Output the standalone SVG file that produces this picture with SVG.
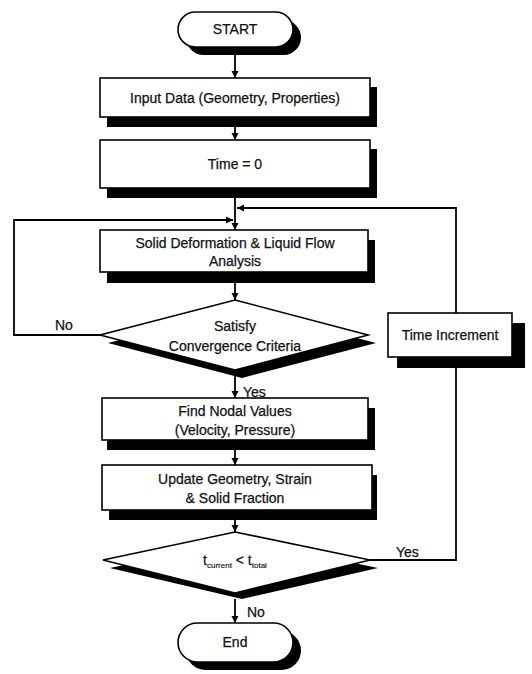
<svg xmlns="http://www.w3.org/2000/svg" width="532" height="674" viewBox="0 0 532 674">
<style>
  .box { fill: #fff; stroke: #000; stroke-width: 1.6; }
  .sh { fill: #000; }
  .ln { fill: none; stroke: #000; stroke-width: 1.8; }
  text { font-family: "Liberation Sans", Arial, sans-serif; font-size: 14px; fill: #111; stroke: #111; stroke-width: 0.25; text-anchor: middle; }
  .lbl { text-anchor: start; }
</style>
<defs>
  <marker id="ah" viewBox="0 0 10 10" refX="10" refY="5" markerWidth="7" markerHeight="9" markerUnits="userSpaceOnUse" orient="auto">
    <path d="M0,0 L10,5 L0,10 z" fill="#000"/>
  </marker>
</defs>
<rect width="532" height="674" fill="#fff"/>

<g id="connectors">
  <line class="ln" x1="235" y1="47" x2="235" y2="78" marker-end="url(#ah)"/>
  <line class="ln" x1="235" y1="127" x2="235" y2="140" marker-end="url(#ah)"/>
  <line class="ln" x1="235" y1="198" x2="235" y2="230" marker-end="url(#ah)"/>
  <polyline class="ln" points="456,313 456,208 237,208" marker-end="url(#ah)"/>
  <polyline class="ln" points="100,335 14,335 14,220 233,220" marker-end="url(#ah)"/>
  <line class="ln" x1="235" y1="283" x2="235" y2="300" marker-end="url(#ah)"/>
  <line class="ln" x1="235" y1="376" x2="235" y2="398" marker-end="url(#ah)"/>
  <line class="ln" x1="235" y1="450" x2="235" y2="465" marker-end="url(#ah)"/>
  <line class="ln" x1="235" y1="520" x2="235" y2="532" marker-end="url(#ah)"/>
  <polyline class="ln" points="370,560 456,560 456,357"/>
  <line class="ln" x1="235" y1="599" x2="235" y2="623" marker-end="url(#ah)"/>
  <text class="lbl" x="55" y="330">No</text>
  <text class="lbl" x="243" y="397">Yes</text>
  <text class="lbl" x="396" y="557">Yes</text>
  <text class="lbl" x="247" y="617">No</text>
</g>

<g id="start">
  <rect class="sh" x="186" y="20" width="115" height="35" rx="17.5"/>
  <rect class="box" x="178" y="12" width="115" height="35" rx="17.5"/>
  <text x="235" y="34">START</text>
</g>

<g id="input">
  <rect class="sh" x="107" y="87" width="270" height="40"/>
  <rect class="box" x="100" y="78" width="270" height="39"/>
  <text x="235" y="103">Input Data (Geometry, Properties)</text>
</g>

<g id="time0">
  <rect class="sh" x="107" y="149" width="270" height="49"/>
  <rect class="box" x="100" y="140" width="270" height="48"/>
  <text x="235" y="169">Time = 0</text>
</g>

<g id="solid">
  <rect class="sh" x="107" y="240" width="268" height="43"/>
  <rect class="box" x="100" y="230" width="268" height="42"/>
  <text x="235" y="248">Solid Deformation &amp; Liquid Flow</text>
  <text x="235" y="266">Analysis</text>
</g>

<g id="converge">
  <polygon class="sh" points="242,308 376,343 242,378 108,343"/>
  <polygon class="box" points="235,300 368,335 235,370 100,335"/>
  <text x="235" y="331">Satisfy</text>
  <text x="235" y="351">Convergence Criteria</text>
</g>

<g id="timeinc">
  <rect class="sh" x="397" y="323" width="128" height="45" fill="#222"/>
  <rect class="box" x="388" y="313" width="124" height="44"/>
  <text x="450" y="340">Time Increment</text>
</g>

<g id="nodal">
  <rect class="sh" x="107" y="408" width="268" height="42"/>
  <rect class="box" x="102" y="398" width="266" height="42"/>
  <text x="235" y="416">Find Nodal Values</text>
  <text x="235" y="435">(Velocity, Pressure)</text>
</g>

<g id="update">
  <rect class="sh" x="109" y="475" width="268" height="45"/>
  <rect class="box" x="102" y="465" width="270" height="45"/>
  <text x="235" y="484">Update Geometry, Strain</text>
  <text x="235" y="503">&amp; Solid Fraction</text>
</g>

<g id="tcheck">
  <polygon class="sh" points="242,540 378,568 242,599 110,568"/>
  <polygon class="box" points="235,532 370,560 235,593 103,560"/>
  <text x="235" y="565">t<tspan font-size="8" stroke-width="0.15" dy="3">current</tspan><tspan dy="-3"> &lt; t</tspan><tspan font-size="8" stroke-width="0.15" dy="3">total</tspan></text>
</g>

<g id="end">
  <rect class="sh" x="186" y="631" width="115" height="39" rx="19.5"/>
  <rect class="box" x="178" y="623" width="115" height="39" rx="19.5"/>
  <text x="235" y="647">End</text>
</g>
</svg>
